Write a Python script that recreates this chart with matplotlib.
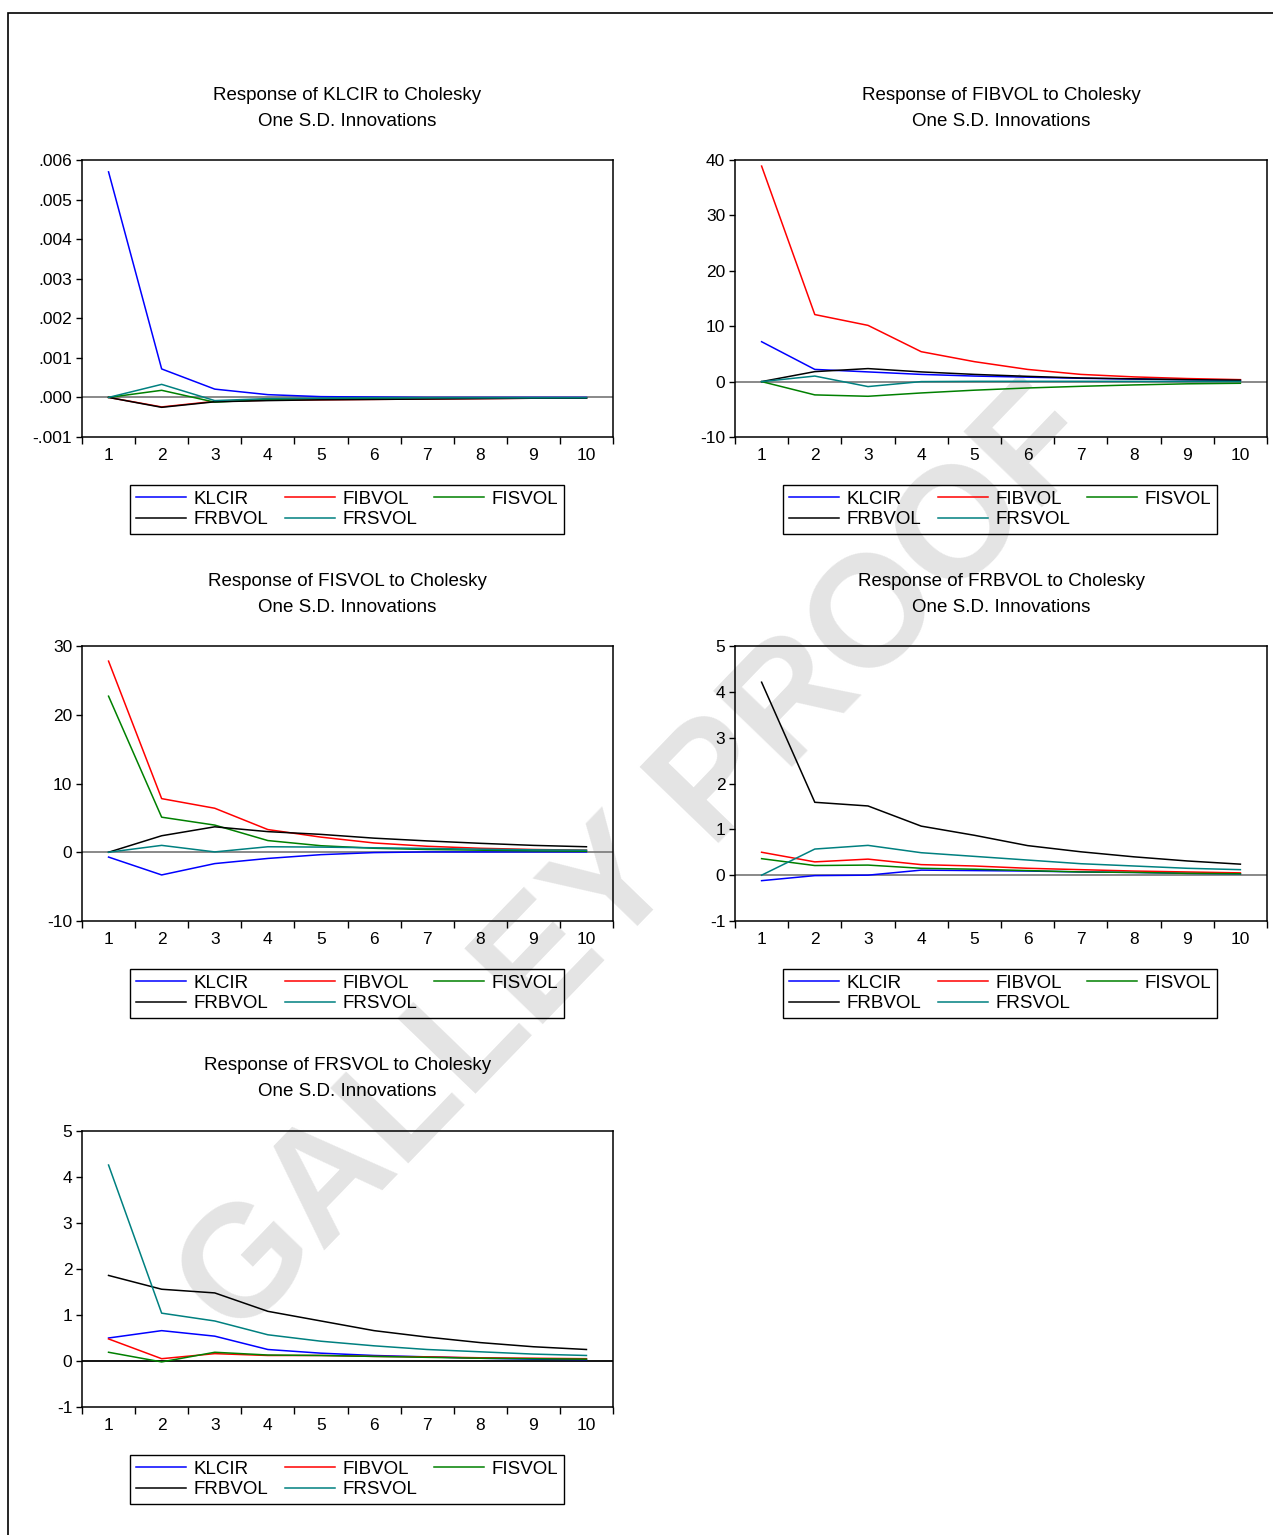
import matplotlib
matplotlib.use("Agg")
import matplotlib.pyplot as plt
from matplotlib.patches import Rectangle
import numpy as np

plt.rcParams['font.family'] = ['Liberation Sans', 'DejaVu Sans']

W, H = 1273, 1535

periods = list(range(1, 11))
shocks = ["KLCIR", "FIBVOL", "FISVOL", "FRBVOL", "FRSVOL"]
colors = {"KLCIR": "#0000ff", "FIBVOL": "#ff0000", "FISVOL": "#008000",
          "FRBVOL": "#000000", "FRSVOL": "#008080"}

# Response of KLCIR
resp_klcir = {
    "KLCIR":  [0.0057, 0.00072, 0.00021, 0.00007, 0.00002, 0.00001, 0.0, 0.0, 0.0, 0.0],
    "FIBVOL": [0.0, -0.00024, -0.00010, -0.00007, -0.00006, -0.00005, -0.00004, -0.00003, -0.00002, -0.00002],
    "FISVOL": [0.0, 0.00018, -0.00012, -0.00005, -0.00003, -0.00002, -0.00001, -0.00001, -0.00001, -0.00001],
    "FRBVOL": [0.0, -0.00025, -0.00011, -0.00008, -0.00006, -0.00005, -0.00004, -0.00003, -0.00002, -0.00002],
    "FRSVOL": [0.0, 0.00033, -0.00008, -0.00003, -0.00002, -0.00001, -0.00001, -0.00001, -0.00001, -0.00001],
}
# Response of FIBVOL
resp_fibvol = {
    "KLCIR":  [7.2, 2.2, 1.75, 1.3, 1.0, 0.8, 0.6, 0.45, 0.35, 0.25],
    "FIBVOL": [38.9, 12.1, 10.15, 5.4, 3.6, 2.2, 1.3, 0.85, 0.55, 0.35],
    "FISVOL": [0.0, -2.4, -2.65, -2.05, -1.55, -1.15, -0.85, -0.6, -0.4, -0.3],
    "FRBVOL": [0.0, 1.8, 2.35, 1.75, 1.3, 0.95, 0.65, 0.5, 0.35, 0.25],
    "FRSVOL": [0.0, 1.0, -0.9, 0.0, 0.05, 0.05, 0.05, 0.04, 0.03, 0.03],
}
# Response of FISVOL
resp_fisvol = {
    "KLCIR":  [-0.7, -3.3, -1.65, -0.9, -0.35, -0.05, 0.05, 0.05, 0.05, 0.05],
    "FIBVOL": [27.8, 7.8, 6.4, 3.3, 2.2, 1.35, 0.87, 0.58, 0.4, 0.3],
    "FISVOL": [22.7, 5.1, 3.95, 1.7, 0.95, 0.58, 0.4, 0.3, 0.2, 0.15],
    "FRBVOL": [0.0, 2.4, 3.7, 3.0, 2.6, 2.05, 1.65, 1.3, 1.0, 0.8],
    "FRSVOL": [0.0, 1.0, 0.05, 0.8, 0.75, 0.65, 0.55, 0.45, 0.35, 0.3],
}
# Response of FRBVOL
resp_frbvol = {
    "KLCIR":  [-0.12, -0.01, 0.0, 0.11, 0.10, 0.09, 0.07, 0.06, 0.04, 0.03],
    "FIBVOL": [0.5, 0.29, 0.35, 0.23, 0.2, 0.15, 0.12, 0.09, 0.07, 0.05],
    "FISVOL": [0.36, 0.21, 0.22, 0.15, 0.13, 0.10, 0.07, 0.06, 0.04, 0.03],
    "FRBVOL": [4.21, 1.59, 1.51, 1.07, 0.87, 0.645, 0.51, 0.4, 0.31, 0.24],
    "FRSVOL": [0.0, 0.57, 0.65, 0.49, 0.41, 0.33, 0.25, 0.2, 0.15, 0.12],
}
# Response of FRSVOL
resp_frsvol = {
    "KLCIR":  [0.5, 0.66, 0.54, 0.25, 0.17, 0.12, 0.09, 0.06, 0.04, 0.03],
    "FIBVOL": [0.48, 0.05, 0.16, 0.12, 0.12, 0.10, 0.09, 0.07, 0.06, 0.05],
    "FISVOL": [0.19, -0.02, 0.19, 0.13, 0.12, 0.10, 0.08, 0.06, 0.05, 0.04],
    "FRBVOL": [1.86, 1.56, 1.48, 1.08, 0.87, 0.66, 0.52, 0.4, 0.31, 0.25],
    "FRSVOL": [4.26, 1.04, 0.87, 0.57, 0.43, 0.33, 0.25, 0.2, 0.15, 0.12],
}

# (target, data, ylim, yticks, axes box in pixels left/right/top/bottom, zero-line colour)
panels = [
    ("KLCIR", resp_klcir, (-0.001, 0.006), np.arange(-0.001, 0.0061, 0.001), (82, 613, 160, 437), "#808080"),
    ("FIBVOL", resp_fibvol, (-10, 40), np.arange(-10, 41, 10), (735, 1267, 160, 437), "#808080"),
    ("FISVOL", resp_fisvol, (-10, 30), np.arange(-10, 31, 10), (82, 613, 646, 921), "#808080"),
    ("FRBVOL", resp_frbvol, (-1, 5), np.arange(-1, 6, 1), (735, 1267, 646, 921), "#808080"),
    ("FRSVOL", resp_frsvol, (-1, 5), np.arange(-1, 6, 1), (82, 613, 1131, 1407), "#000000"),
]


def fmt_small(v):
    s = f"{v:.3f}"
    return s.replace("0.", ".", 1)


fig = plt.figure(figsize=(W / 100, H / 100), dpi=100)

# outer frame of the page
fig.add_artist(Rectangle((8 / W, -0.1), 1.2, 1 - 13 / H + 0.1, transform=fig.transFigure,
                         fill=False, edgecolor="black", linewidth=1.2))

# watermark
fig.text(640 / W, 1 - 865 / H, "GALLEY PROOF", rotation=46, fontsize=114,
         fontweight="bold", color="#e4e4e4", ha="center", va="center", zorder=-1)

legend_order = ["KLCIR", "FRBVOL", "FIBVOL", "FRSVOL", "FISVOL"]

for target, data, ylim, yticks, (l, r, t, b), zcol in panels:
    ax = fig.add_axes([l / W, 1 - b / H, (r - l) / W, (b - t) / H])
    ax.set_facecolor("none")
    ax.axhline(0, color=zcol, linewidth=1.3, zorder=1)
    handles = {}
    for s in shocks:
        line, = ax.plot(periods, data[s], color=colors[s], linewidth=1.1, label=s, zorder=2)
        handles[s] = line

    ax.set_xlim(0.5, 10.5)
    ax.set_ylim(*ylim)
    ax.set_xticks(periods)
    ax.set_xticks(np.arange(0.5, 11, 1), minor=True)
    ax.tick_params(axis="x", which="major", length=0, pad=8, labelsize=12.5)
    ax.tick_params(axis="x", which="minor", length=5, direction="out", width=1)
    ax.set_yticks(yticks)
    if target == "KLCIR":
        ax.set_yticklabels([fmt_small(v) for v in yticks])
    else:
        ax.set_yticklabels([f"{v:g}" for v in yticks])
    ax.tick_params(axis="y", length=4, direction="out", pad=3, labelsize=12.5, width=1)
    for sp in ax.spines.values():
        sp.set_linewidth(1.1)

    cx = (l + r) / 2 / W
    fig.text(cx, 1 - (t - 65) / H, f"Response of {target} to Cholesky", ha="center",
             va="center", fontsize=13.5)
    fig.text(cx, 1 - (t - 39) / H, "One S.D. Innovations", ha="center", va="center",
             fontsize=13.5)

    lx0 = (l + 48) / W
    ly_top = b + 49
    leg = ax.legend([handles[s] for s in legend_order], legend_order, ncol=3,
                    bbox_to_anchor=(lx0, 1 - (ly_top + 47) / H, 434 / W, 47 / H),
                    bbox_transform=fig.transFigure, mode="expand", loc="center",
                    fontsize=13.5, handlelength=2.67, handletextpad=0.43, labelspacing=0.16,
                    borderpad=0.3, borderaxespad=0, fancybox=False, framealpha=1,
                    edgecolor="black", facecolor="none")
    leg.get_frame().set_linewidth(1.0)

fig.savefig("out.png", dpi=100)
